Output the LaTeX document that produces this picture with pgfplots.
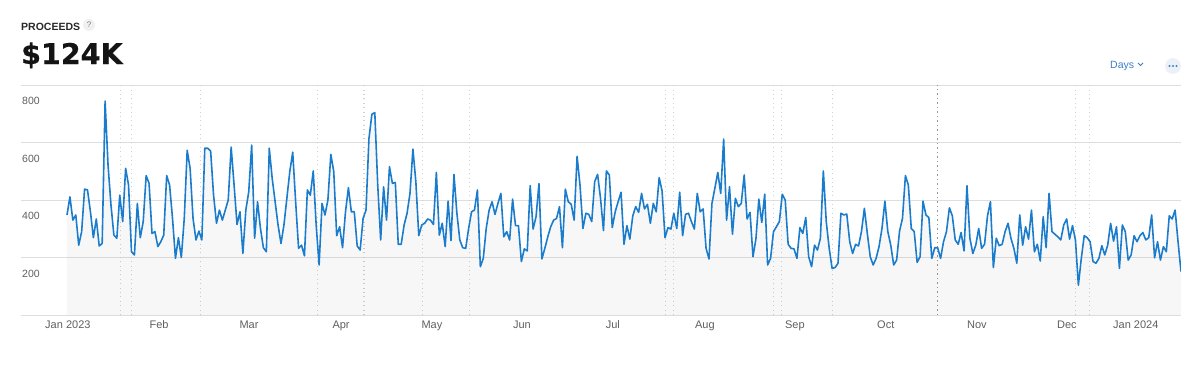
\documentclass[border=0pt]{standalone}
\usepackage{fontspec}
\setmainfont{Liberation Sans}
\newfontface\bignum{DejaVu Sans Bold}[FakeBold=0.6]
\usepackage{pgfplots}
\usepackage{pgfplotstable}
\pgfplotsset{compat=1.18}
\definecolor{lineblue}{RGB}{28,124,204}
\definecolor{gridgray}{RGB}{222,222,222}
\definecolor{labgray}{RGB}{95,95,95}
\definecolor{dotgray}{RGB}{208,208,208}
\definecolor{dotdark}{RGB}{150,150,150}
\definecolor{btnblue}{RGB}{60,125,200}
\definecolor{btnbg}{RGB}{236,241,248}
\definecolor{headtxt}{RGB}{40,40,40}
\pgfplotstableread{
v
348
411
330
348
243
290
438
435
359
269
334
240
249
744
522
383
278
267
417
325
510
452
220
209
388
269
325
485
458
284
290
238
255
278
485
452
336
197
269
200
336
573
510
336
261
292
261
580
580
570
417
319
365
330
365
400
584
452
315
359
214
365
429
591
267
394
301
234
220
580
475
394
313
249
313
406
499
566
394
232
243
206
435
417
501
313
174
388
348
400
559
499
276
307
234
359
443
359
359
240
226
336
365
614
698
704
452
261
446
330
516
458
461
246
246
313
354
423
577
464
276
313
319
334
330
315
496
278
319
238
396
259
489
354
261
234
232
301
359
365
435
168
197
301
365
394
350
388
423
272
290
261
403
311
311
186
230
223
450
299
342
457
195
232
272
307
330
336
377
234
438
394
385
330
552
452
301
354
350
325
464
489
406
294
501
487
304
359
394
427
246
311
264
345
377
357
423
369
385
319
388
359
478
431
269
304
299
354
301
427
276
350
354
325
299
423
359
369
232
195
388
441
496
423
612
330
446
281
406
377
388
487
334
357
203
264
403
322
420
174
197
290
307
325
420
400
246
232
230
197
304
284
339
203
168
243
226
267
501
325
232
162
165
180
354
348
351
255
214
246
240
290
371
284
203
174
197
238
301
396
290
243
174
191
292
336
485
452
301
290
183
203
396
348
339
197
234
234
197
255
290
373
345
261
246
287
223
450
267
214
243
301
232
246
345
394
165
267
241
246
290
319
267
232
180
348
243
307
264
365
220
246
188
342
234
423
290
281
272
261
313
334
264
311
261
104
197
276
269
255
186
180
197
241
209
243
319
257
307
162
313
290
191
209
276
255
276
287
261
269
348
199
255
191
238
220
345
334
365
255
151
}\proceeds

\begin{document}
\begin{tikzpicture}[x=1pt,y=1pt]
\useasboundingbox (0,0) rectangle (1197,376);
% header
\node[anchor=base west, inner sep=0pt, font=\bfseries\fontsize{10.5}{12}\selectfont, text=headtxt] at (21,346) {PROCEEDS};
\fill[gray!12] (89,351) circle (6);
\node[inner sep=0pt, font=\fontsize{8}{9}\selectfont, text=gray] at (89,351) {?};
\node[anchor=base west, inner sep=0pt, font=\bignum\fontsize{28.5}{30}\selectfont, text={rgb,255:red,20;green,20;blue,20}] at (21,312) {\$124K};
\node[anchor=base west, inner sep=0pt, font=\fontsize{10.5}{12}\selectfont, text=btnblue] at (1110,308) {Days};
\draw[btnblue, line width=0.8pt] (1138,313) -- (1140.5,310.5) -- (1143,313);
\fill[btnbg] (1173,310) circle (8);
\fill[btnblue] (1169.5,310) circle (1.1) (1173,310) circle (1.1) (1176.5,310) circle (1.1);
\begin{axis}[
  at={(21pt,61pt)}, anchor=south west,
  scale only axis, width=1160pt, height=230pt,
  xmin=-15.69, xmax=380, ymin=0, ymax=800,
  axis line style={draw=none},
  major tick length=0pt,
  tick style={draw=none},
  xtick={0.3,31.4,62.1,93.5,124.5,155.2,186.2,217.6,248.3,279.3,310.4,341.1,364.6},
  xticklabels={Jan 2023,Feb,Mar,Apr,May,Jun,Jul,Aug,Sep,Oct,Nov,Dec,Jan 2024},
  ytick={200,400,600,800},
  yticklabels={200,400,600,800},
  extra y ticks={0},
  extra y tick labels={},
  extra y tick style={grid=major},
  ymajorgrids,
  grid style={gridgray, line width=0.8pt},
  xticklabel style={font=\fontsize{11}{12}\selectfont, text=labgray, anchor=north, inner sep=0pt, text height=8pt, text depth=2.5pt, yshift=-5pt},
  yticklabel style={font=\fontsize{10.5}{12}\selectfont, text=labgray, anchor=north west, inner sep=0pt, xshift=1pt, yshift=-12pt},
]
\pgfplotsinvokeforeach{18.1,22.1,45.4,85.4,101.3,121.3,137.2,204.2,207.0,241.1,243.8,261.0,344.1,348.9}{
  \addplot[dotgray, line width=1.1pt, dash pattern=on 1.1pt off 3.3pt, forget plot] coordinates {(#1,0) (#1,800)};
}
\addplot[dotdark, line width=1.1pt, dash pattern=on 1.5pt off 3pt, forget plot] coordinates {(296.8,0) (296.8,800)};
\addplot[draw=none, fill=black, fill opacity=0.03, forget plot] table[x expr=\coordindex, y=v]{\proceeds} \closedcycle;
\addplot[lineblue, line width=1.6pt, line join=round, mark=none] table[x expr=\coordindex, y=v]{\proceeds};
\end{axis}
\end{tikzpicture}
\end{document}
